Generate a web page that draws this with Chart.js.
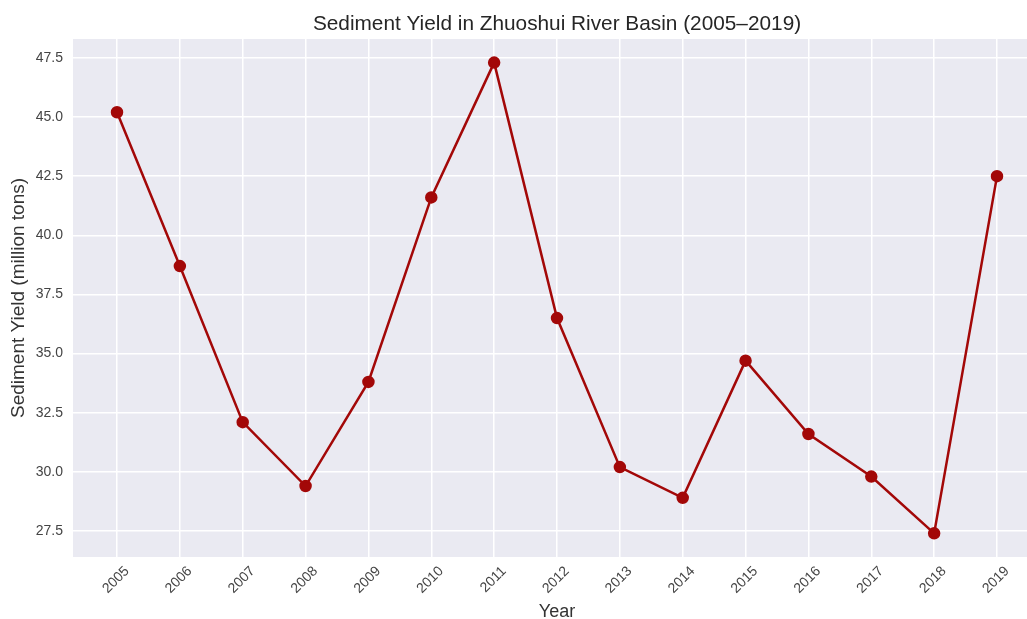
<!DOCTYPE html>
<html>
<head>
<meta charset="utf-8">
<script src="https://cdn.jsdelivr.net/npm/chart.js@4/dist/chart.umd.min.js"></script>
<style>
  html, body { margin: 0; padding: 0; background: #ffffff; overflow: hidden; width: 1027px; height: 619px; }
  #wrap { width: 1114px; height: 619px; position: relative; }
</style>
</head>
<body>
<div id="wrap"><canvas id="c"></canvas></div>
<script>
const years = [2005, 2006, 2007, 2008, 2009, 2010, 2011, 2012, 2013, 2014, 2015, 2016, 2017, 2018, 2019];
const sedimentYield = [45.2, 38.7, 32.1, 29.4, 33.8, 41.6, 47.3, 36.5, 30.2, 28.9, 34.7, 31.6, 29.8, 27.4, 42.5];
const yTicks = [27.5, 30.0, 32.5, 35.0, 37.5, 40.0, 42.5, 45.0, 47.5];

const bgPlugin = {
  id: 'plotBg',
  beforeDraw(chart) {
    const { ctx, chartArea } = chart;
    ctx.save();
    ctx.fillStyle = '#EAEAF2';
    ctx.fillRect(chartArea.left, chartArea.top, chartArea.right - chartArea.left, chartArea.bottom - chartArea.top);
    ctx.restore();
  }
};

const FONT = 'Liberation Sans, Arial, sans-serif';

new Chart(document.getElementById('c'), {
  type: 'line',
  data: {
    datasets: [{
      data: years.map((y, i) => ({ x: y, y: sedimentYield[i] })),
      borderColor: '#A30808',
      backgroundColor: '#A30808',
      borderWidth: 2.5,
      pointRadius: 5,
      pointHoverRadius: 5,
      tension: 0,
      fill: false
    }]
  },
  options: {
    responsive: true,
    maintainAspectRatio: false,
    animation: false,
    layout: { padding: 0 },
    plugins: {
      legend: { display: false },
      tooltip: { enabled: false },
      title: {
        display: true,
        text: 'Sediment Yield in Zhuoshui River Basin (2005–2019)',
        color: '#262626',
        font: { family: FONT, size: 20.8, weight: 'normal' },
        padding: { top: 11.5, bottom: 2.5 }
      }
    },
    scales: {
      x: {
        type: 'linear',
        min: 2004.3,
        max: 2019.7,
        afterBuildTicks(scale) { scale.ticks = years.map(v => ({ value: v })); },
        afterFit(scale) { scale.height = 62; scale.paddingLeft = 0; scale.paddingRight = 73; },
        ticks: {
          callback: (v) => String(v),
          minRotation: 45,
          maxRotation: 45,
          labelOffset: 10,
          padding: 6,
          color: '#444444',
          font: { family: FONT, size: 14 }
        },
        grid: { color: '#FFFFFF', lineWidth: 1.5, drawTicks: false },
        border: { display: false },
        title: {
          display: true,
          text: 'Year',
          color: '#333333',
          font: { family: FONT, size: 18 },
          padding: { top: 0, bottom: -4 }
        }
      },
      y: {
        min: 26.4,
        max: 48.3,
        afterBuildTicks(scale) { scale.ticks = yTicks.map(v => ({ value: v })); },
        afterFit(scale) { scale.width = 73; },
        ticks: {
          callback: (v) => v.toFixed(1),
          padding: 10,
          color: '#444444',
          font: { family: FONT, size: 14 }
        },
        grid: { color: '#FFFFFF', lineWidth: 1.5, drawTicks: false },
        border: { display: false },
        title: {
          display: true,
          text: 'Sediment Yield (million tons)',
          color: '#333333',
          font: { family: FONT, size: 19 },
          padding: { top: 7, bottom: 0 }
        }
      }
    }
  },
  plugins: [bgPlugin]
});
</script>
</body>
</html>
